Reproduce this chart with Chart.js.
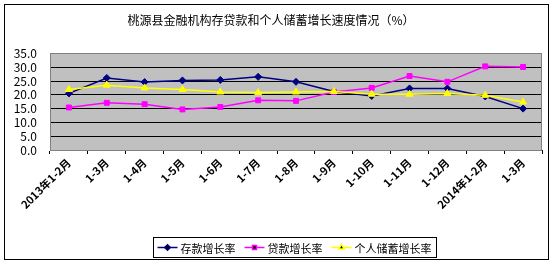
<!DOCTYPE html>
<html>
<head>
<meta charset="utf-8">
<script src="https://cdn.jsdelivr.net/npm/chart.js@4/dist/chart.umd.min.js"></script>
<style>
  html, body { margin: 0; padding: 0; background: #fff; }
  #wrap { width: 554px; height: 267px; }
</style>
</head>
<body>
<div id="wrap"><canvas id="mainChart" width="554" height="267"></canvas></div>
<script>
// --- Data ---
const categories = ['2013年1-2月', '1-3月', '1-4月', '1-5月', '1-6月', '1-7月', '1-8月',
    '1-9月', '1-10月', '1-11月', '1-12月', '2014年1-2月', '1-3月'];
const depositGrowth = [20.5, 26.1, 24.6, 25.2, 25.4, 26.5, 24.7, 21.2, 19.6, 22.3, 22.3, 19.4, 15.0];
const loanGrowth = [15.4, 17.1, 16.6, 14.7, 15.6, 18.0, 17.8, 21.0, 22.5, 26.8, 24.7, 30.3, 30.1];
const savingsGrowth = [21.9, 23.5, 22.5, 21.9, 21.0, 20.8, 21.0, 21.2, 20.2, 20.2, 20.5, 19.8, 17.4];
const seriesNames = ['存款增长率', '贷款增长率', '个人储蓄增长率'];
const yTicks = [0, 5, 10, 15, 20, 25, 30, 35];

const FONT = '"Noto Sans CJK SC", "Noto Sans", sans-serif';

// --- Plugins ---
const frame = {
    id: 'frame',
    beforeDraw(chart) {
        const { ctx, chartArea: a } = chart;
        ctx.save();
        ctx.fillStyle = '#fff';
        ctx.fillRect(0, 0, chart.width, chart.height);
        ctx.fillStyle = '#c0c0c0';
        ctx.fillRect(a.left, a.top, a.right - a.left, a.bottom - a.top);
        ctx.restore();
    },
    afterDraw(chart) {
        const { ctx, chartArea: a } = chart;
        ctx.save();
        ctx.strokeStyle = '#808080';
        ctx.lineWidth = 1;
        ctx.strokeRect(Math.round(a.left) + 0.5, Math.round(a.top) + 0.5,
            Math.round(a.right - a.left) - 1, Math.round(a.bottom - a.top));
        ctx.strokeStyle = '#000';
        ctx.strokeRect(4.5, 4.5, 544, 255);
        ctx.restore();
    }
};

// legend with line + marker, boxed, like the spreadsheet one
const boxLegend = {
    id: 'boxLegend',
    afterDraw(chart) {
        const ctx = chart.ctx;
        const top = 237.5, h = 20, left = 153.5;
        ctx.save();
        ctx.font = '11px ' + FONT;
        ctx.textBaseline = 'middle';
        let x = left + 4;
        const cy = top + h / 2;
        chart.data.datasets.forEach(ds => {
            ctx.strokeStyle = ds.borderColor;
            ctx.lineWidth = 1.5;
            ctx.beginPath();
            ctx.moveTo(x, cy);
            ctx.lineTo(x + 20, cy);
            ctx.stroke();
            Chart.helpers.drawPoint(ctx, {
                pointStyle: ds.pointStyle, radius: ds.pointRadius * 0.8,
                rotation: 0, borderWidth: 1
            }, x + 10, cy);
            ctx.fillStyle = '#000';
            ctx.fillText(ds.label, x + 23, cy + 1);
            x += 23 + ctx.measureText(ds.label).width + 9;
        });
        ctx.strokeStyle = '#000';
        ctx.lineWidth = 1;
        ctx.strokeRect(left, top, Math.round(x - left) - 4, h);
        ctx.restore();
    }
};

function makeSet(label, data, color, style, radius, order) {
    return {
        label, data, order,
        borderColor: color, backgroundColor: color,
        pointBackgroundColor: color, pointBorderColor: color,
        pointStyle: style, pointRadius: radius, pointBorderWidth: 1,
        borderWidth: 1.5, tension: 0, fill: false
    };
}

const ctx = document.getElementById('mainChart').getContext('2d');
const mainChart = new Chart(ctx, {
    type: 'line',
    data: {
        labels: categories,
        datasets: [
            makeSet(seriesNames[0], depositGrowth, '#000080', 'rectRot', 3.5, 3),
            makeSet(seriesNames[1], loanGrowth, '#ff00ff', 'rect', 3.5, 2),
            makeSet(seriesNames[2], savingsGrowth, '#ffff00', 'triangle', 4, 1)
        ]
    },
    options: {
        responsive: false,
        animation: false,
        devicePixelRatio: 1,
        layout: { padding: { left: 0, right: 12, top: 0, bottom: 37 } },
        plugins: {
            legend: { display: false },
            tooltip: { enabled: false },
            title: {
                display: true,
                text: '桃源县金融机构存贷款和个人储蓄增长速度情况（%）',
                color: '#000',
                font: { family: FONT, size: 12, weight: 'normal' },
                padding: { top: 13, bottom: 26 }
            }
        },
        scales: {
            x: {
                offset: true,
                afterFit: s => { s.height = 80; },
                grid: {
                    offset: true, drawOnChartArea: false, drawTicks: true,
                    tickLength: 4, color: '#000'
                },
                border: { display: true, color: '#000', width: 1 },
                ticks: {
                    color: '#000', maxRotation: 45, minRotation: 45, autoSkip: false,
                    padding: 2, font: { family: FONT, size: 11, weight: 'bold' }
                }
            },
            y: {
                min: yTicks[0], max: yTicks[yTicks.length - 1],
                afterFit: s => { s.width = 50; },
                grid: {
                    drawTicks: false,
                    color: c => (c.tick && c.tick.value === 35) ? '#808080' : '#000'
                },
                border: { display: false },
                ticks: {
                    stepSize: yTicks[1] - yTicks[0], autoSkip: false,
                    color: '#000', padding: 13,
                    font: { family: FONT, size: 12 },
                    callback: v => Number(v).toFixed(1)
                }
            }
        }
    },
    plugins: [frame, boxLegend]
});
</script>
</body>
</html>
